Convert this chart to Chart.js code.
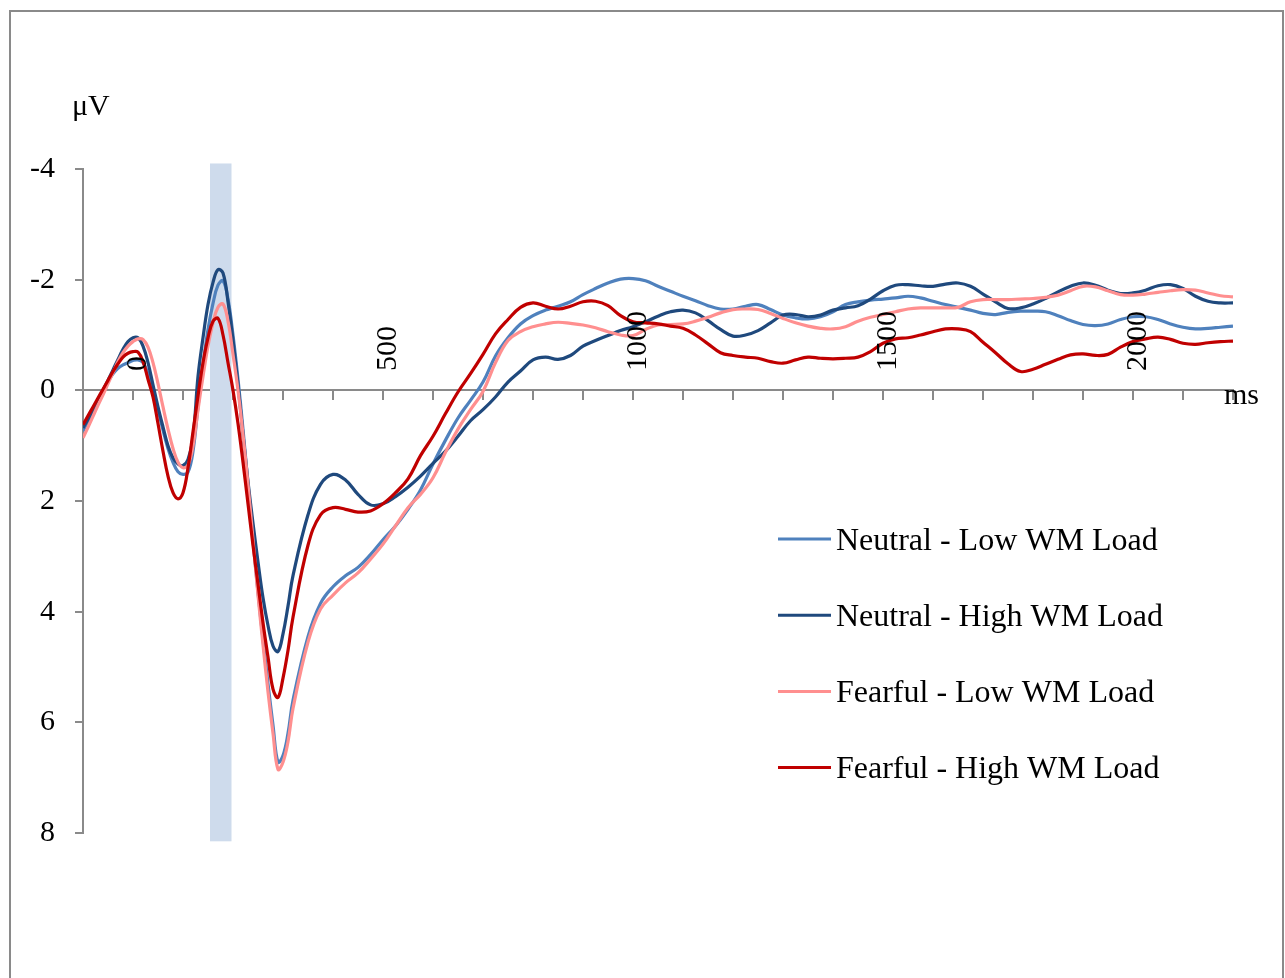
<!DOCTYPE html>
<html>
<head>
<meta charset="utf-8">
<title>ERP waveforms</title>
<script src="https://cdn.jsdelivr.net/npm/chart.js@4.4.1/dist/chart.umd.min.js"></script>
<style>
  html, body { margin: 0; padding: 0; background: #fff; }
  #wrap { position: relative; width: 1285px; height: 978px; overflow: hidden; }
  #erp { position: absolute; left: 0; top: 0; }
</style>
</head>
<body>
<div id="wrap"><canvas id="erp" width="1285" height="978"></canvas></div>
<script>
// sample times (ms): 10 ms steps early on, 25 ms steps after 350 ms
const timesMs = [
  -100, -90, -80, -70, -60, -50, -40, -30, -20, -10,
  0, 10, 20, 30, 40, 50, 60, 70, 80, 90,
  100, 110, 120, 130, 140, 150, 160, 170, 180, 190,
  200, 210, 220, 230, 240, 250, 260, 270, 280, 290,
  300, 310, 320,
  350, 375, 400, 425, 450, 475, 500, 525, 550, 575,
  600, 625, 650, 675, 700, 725, 750, 775, 800, 825,
  850, 875, 900, 925, 950, 975, 1000, 1025, 1050, 1075,
  1100, 1125, 1150, 1175, 1200, 1225, 1250, 1275, 1300, 1325,
  1350, 1375, 1400, 1425, 1450, 1475, 1500, 1525, 1550, 1575,
  1600, 1625, 1650, 1675, 1700, 1725, 1750, 1775, 1800, 1825,
  1850, 1875, 1900, 1925, 1950, 1975, 2000, 2025, 2050, 2075,
  2100, 2125, 2150, 2175, 2200
];

// amplitudes in µV (axis is drawn negative-up)
const neutralLow = [
  0.74, 0.56, 0.37, 0.18, 0.0, -0.16, -0.3, -0.4, -0.46, -0.5,
  -0.54, -0.55, -0.5, -0.3, 0.0, 0.35, 0.72, 1.05, 1.3, 1.47,
  1.52, 1.48, 1.1, 0.3, -0.45, -1.1, -1.57, -1.9, -1.98, -1.65,
  -1.0, -0.2, 0.7, 1.7, 2.7, 3.65, 4.5, 5.3, 6.05, 6.72,
  6.6, 6.2, 5.6,
  4.45, 3.85, 3.55, 3.35, 3.2, 2.97, 2.7, 2.45, 2.15, 1.8,
  1.33, 0.9, 0.5, 0.18, -0.15, -0.62, -0.95, -1.2, -1.35, -1.45,
  -1.52, -1.6, -1.73, -1.84, -1.94, -2.01, -2.02, -1.98, -1.88, -1.79,
  -1.7, -1.62, -1.53, -1.47, -1.47, -1.52, -1.55, -1.46, -1.36, -1.31,
  -1.29, -1.33, -1.42, -1.55, -1.6, -1.63, -1.65, -1.67, -1.7, -1.67,
  -1.61, -1.55, -1.5, -1.45, -1.39, -1.37, -1.41, -1.43, -1.43, -1.42,
  -1.35, -1.26, -1.19, -1.17, -1.2, -1.28, -1.33, -1.33, -1.28, -1.2,
  -1.14, -1.11, -1.12, -1.14, -1.16
];

const neutralHigh = [
  0.68, 0.52, 0.35, 0.17, 0.0, -0.18, -0.37, -0.56, -0.74, -0.88,
  -0.95, -0.95, -0.8, -0.5, -0.1, 0.3, 0.66, 1.0, 1.22, 1.33,
  1.36, 1.25, 0.85, -0.25, -0.95, -1.55, -1.95, -2.18, -2.12, -1.6,
  -0.9, -0.1, 0.8, 1.65, 2.4, 3.1, 3.75, 4.25, 4.62, 4.72,
  4.4, 3.9, 3.35,
  2.25, 1.7, 1.52, 1.62, 1.88, 2.07, 2.05, 1.92, 1.75, 1.55,
  1.32, 1.1, 0.83, 0.55, 0.35, 0.12, -0.15, -0.35, -0.55, -0.6,
  -0.56, -0.63, -0.8, -0.9, -0.99, -1.08, -1.15, -1.24, -1.34, -1.42,
  -1.45, -1.4, -1.26, -1.1, -0.98, -1.0, -1.08, -1.22, -1.36, -1.37,
  -1.33, -1.36, -1.45, -1.49, -1.53, -1.65, -1.8, -1.9, -1.91, -1.89,
  -1.88, -1.92, -1.94, -1.88, -1.74, -1.6, -1.48, -1.49, -1.56, -1.66,
  -1.78, -1.88, -1.94, -1.9, -1.81, -1.75, -1.76, -1.81, -1.89, -1.91,
  -1.84, -1.7, -1.61, -1.58, -1.58
];

const fearfulLow = [
  0.86, 0.67, 0.47, 0.27, 0.08, -0.12, -0.32, -0.52, -0.68, -0.8,
  -0.88, -0.93, -0.92, -0.78, -0.5, -0.12, 0.3, 0.7, 1.05, 1.3,
  1.4, 1.35, 1.0, 0.35, -0.25, -0.8, -1.22, -1.5, -1.56, -1.25,
  -0.65, 0.0, 0.8, 1.7, 2.7, 3.7, 4.6, 5.45, 6.2, 6.85,
  6.72, 6.35, 5.75,
  4.55, 3.95, 3.7, 3.48, 3.3, 3.05, 2.78, 2.45, 2.12, 1.88,
  1.58, 1.12, 0.7, 0.35, 0.02, -0.5, -0.9, -1.06, -1.15, -1.2,
  -1.23, -1.21, -1.18, -1.13, -1.06, -1.0, -0.99, -1.1, -1.18, -1.19,
  -1.2, -1.25, -1.32, -1.4, -1.46, -1.47, -1.46, -1.39, -1.3, -1.22,
  -1.16, -1.12, -1.11, -1.15, -1.25, -1.32, -1.37, -1.42, -1.47, -1.49,
  -1.49, -1.49, -1.5, -1.6, -1.64, -1.64, -1.64, -1.65, -1.66, -1.68,
  -1.72, -1.8, -1.88, -1.87, -1.8, -1.73, -1.72, -1.74, -1.77, -1.8,
  -1.82, -1.81, -1.76, -1.71, -1.69
];

const fearfulHigh = [
  0.62, 0.46, 0.3, 0.14, -0.02, -0.18, -0.34, -0.48, -0.6, -0.67,
  -0.7, -0.69, -0.52, -0.2, 0.12, 0.6, 1.1, 1.55, 1.85, 1.96,
  1.85, 1.4, 0.75, 0.1, -0.5, -0.95, -1.25, -1.3, -1.0, -0.5,
  0.0, 0.6, 1.3, 2.05, 2.8, 3.5, 4.2, 4.82, 5.4, 5.55,
  5.2, 4.7, 4.1,
  2.8, 2.25, 2.12, 2.15, 2.2, 2.18, 2.05, 1.85, 1.6, 1.18,
  0.83, 0.42, 0.03, -0.3, -0.65, -1.02, -1.28, -1.5, -1.58, -1.52,
  -1.47, -1.52, -1.6, -1.61, -1.53, -1.35, -1.24, -1.22, -1.2, -1.16,
  -1.12, -1.0, -0.84, -0.68, -0.63, -0.6, -0.58, -0.52, -0.49, -0.55,
  -0.6, -0.58, -0.57, -0.58, -0.6, -0.7, -0.85, -0.93, -0.95, -1.0,
  -1.06, -1.11, -1.11, -1.06, -0.87, -0.68, -0.48, -0.34, -0.38, -0.47,
  -0.56, -0.64, -0.66, -0.63, -0.65, -0.78, -0.88, -0.93, -0.96, -0.92,
  -0.85, -0.83, -0.86, -0.88, -0.89
];

const seriesLabels = [
  'Neutral - Low WM Load',
  'Neutral - High WM Load',
  'Fearful - Low WM Load',
  'Fearful - High WM Load'
];
const seriesValues = [neutralLow, neutralHigh, fearfulLow, fearfulHigh];
const seriesColors = ['#4F81BD', '#1F497D', '#FF8F8F', '#C00000'];

const xTickLabels = [0, 500, 1000, 1500, 2000];
const shadeWindowMs = [154, 197];
const shadeRangeUv = [-4.1, 8.15];

const AXIS_GREY = '#8a8a8a';
const SERIF = '"Liberation Serif", "Times New Roman", serif';

Chart.defaults.font.family = SERIF;
Chart.defaults.color = '#000';

/** white page with the grey outer frame */
const framePlugin = {
    id: 'frame',
    beforeDraw(chart) {
        const ctx = chart.ctx;
        ctx.save();
        ctx.fillStyle = '#fff';
        ctx.fillRect(0, 0, chart.width, chart.height);
        ctx.strokeStyle = AXIS_GREY;
        ctx.lineWidth = 2;
        ctx.strokeRect(10, 11, 1273, 1000);
        ctx.restore();
    }
};

/** the highlighted time window behind the waveforms */
const shadePlugin = {
    id: 'shade',
    beforeDatasetsDraw(chart) {
        const { ctx, scales: { x, y } } = chart;
        const left = x.getPixelForValue(shadeWindowMs[0]);
        const right = x.getPixelForValue(shadeWindowMs[1]);
        const top = y.getPixelForValue(shadeRangeUv[0]);
        const bottom = y.getPixelForValue(shadeRangeUv[1]);
        ctx.save();
        ctx.fillStyle = '#CEDBEC';
        ctx.fillRect(left, top, right - left, bottom - top);
        ctx.restore();
    }
};

/** rotated time labels above the axis, unit labels and the legend */
const annotatePlugin = {
    id: 'annotate',
    afterDraw(chart) {
        const { ctx, scales: { x } } = chart;
        ctx.save();
        ctx.fillStyle = '#000';
        ctx.font = '30px ' + SERIF;
        ctx.textAlign = 'left';
        ctx.textBaseline = 'alphabetic';

        xTickLabels.forEach(v => {
            const px = x.getPixelForValue(v);
            ctx.save();
            ctx.translate(px + 13, 371);
            ctx.rotate(-Math.PI / 2);
            ctx.fillText(String(v), 0, 0);
            ctx.restore();
        });

        ctx.fillText('\u03bcV', 72, 115);
        ctx.fillText('ms', 1224, 404);

        // legend
        ctx.font = '32px ' + SERIF;
        chart.data.datasets.forEach((ds, i) => {
            const rowY = 539 + i * 76.2;
            ctx.strokeStyle = ds.borderColor;
            ctx.lineWidth = 3;
            ctx.beginPath();
            ctx.moveTo(778, rowY);
            ctx.lineTo(831, rowY);
            ctx.stroke();
            ctx.fillText(ds.label, 836, rowY + 10.5);
        });
        ctx.restore();
    }
};

const datasets = seriesLabels.map((label, i) => ({
    label,
    data: timesMs.map((t, k) => ({ x: t, y: seriesValues[i][k] })),
    borderColor: seriesColors[i],
    backgroundColor: seriesColors[i],
    borderWidth: 3.2,
    pointRadius: 0,
    fill: false,
    tension: 0.4,
    order: seriesLabels.length - i
}));

new Chart(document.getElementById('erp'), {
    type: 'line',
    data: { datasets },
    options: {
        responsive: false,
        animation: false,
        devicePixelRatio: 1,
        layout: { padding: { left: 0, top: 169, right: 52, bottom: 145 } },
        plugins: {
            legend: { display: false },
            tooltip: { enabled: false }
        },
        scales: {
            x: {
                type: 'linear',
                min: -100,
                max: 2200,
                position: { y: 0 },
                ticks: { display: false, stepSize: 100 },
                grid: { drawOnChartArea: false, color: AXIS_GREY, lineWidth: 2, tickLength: 9 },
                border: { color: AXIS_GREY, width: 2 }
            },
            y: {
                type: 'linear',
                min: -4,
                max: 8,
                reverse: true,
                ticks: { stepSize: 2, color: '#000', font: { size: 30 }, padding: 20 },
                grid: { drawOnChartArea: false, color: AXIS_GREY, lineWidth: 2, tickLength: 8 },
                border: { color: AXIS_GREY, width: 2 },
                afterFit: scale => { scale.width = 83; }
            }
        }
    },
    plugins: [framePlugin, shadePlugin, annotatePlugin]
});
</script>
</body>
</html>
